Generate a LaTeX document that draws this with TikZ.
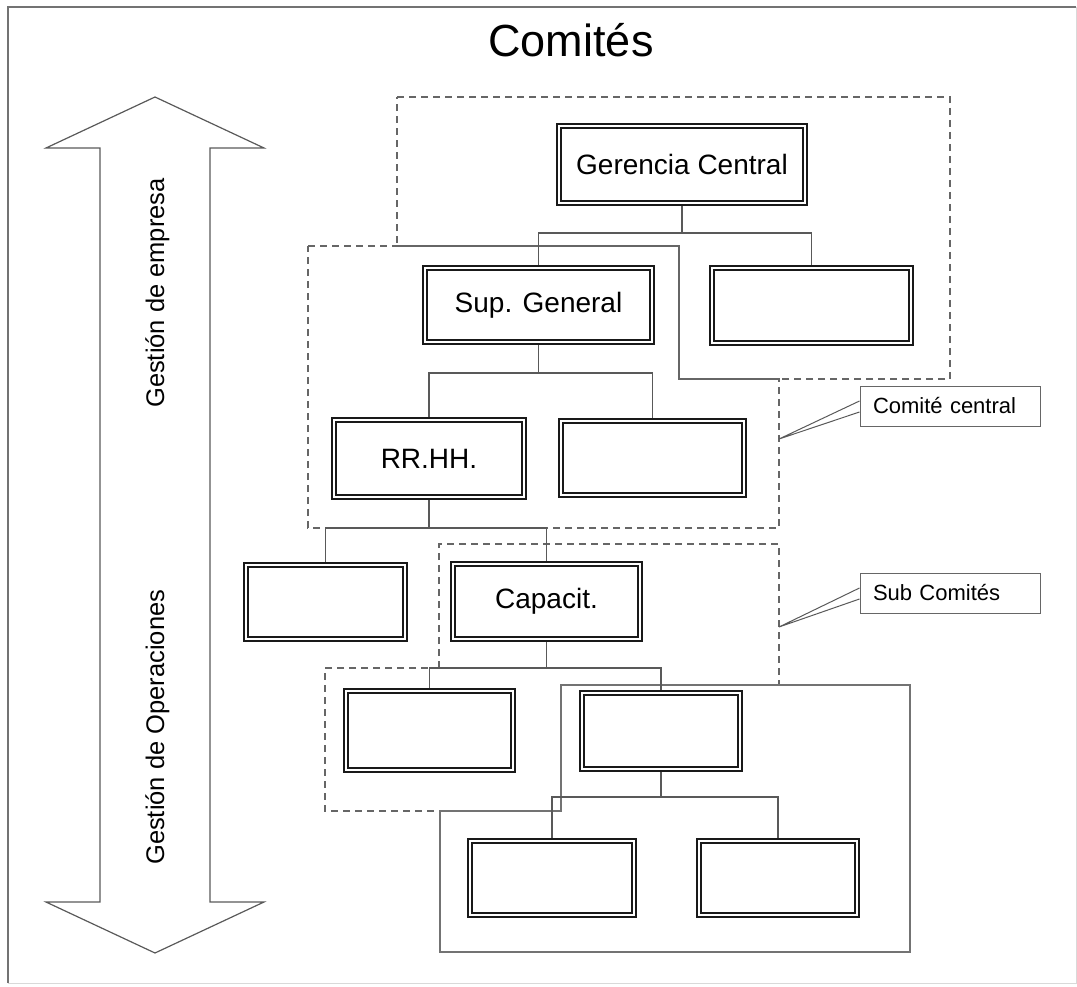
\documentclass[tikz,border=0pt]{standalone}
\usepackage{fontspec}
\setmainfont{Liberation Sans}
\usetikzlibrary{calc}

\tikzset{
  unit/.style 2 args={draw=black!90, double=white, double distance=2.2pt, line width=1.8pt,
    fill=white, inner sep=0pt, outer sep=2.9pt, minimum width=#1pt, minimum height=#2pt,
    font=\fontsize{28}{32}\selectfont},
  link/.style={draw=black!65, line width=1.2pt},
  zone/.style={draw=black!60, line width=1.2pt, dash pattern=on 7pt off 5pt},
  solidzone/.style={draw=black!55, line width=1.2pt},
  tag/.style={draw=black!60, line width=1pt, fill=white, text width=154pt, align=left,
    inner xsep=13pt, inner ysep=0pt, minimum height=40pt, font=\fontsize{22}{26}\selectfont},
  arrowline/.style={draw=black!65, line width=1.2pt, line join=miter},
  sidetext/.style={rotate=90, inner sep=0pt, font=\fontsize{25.5}{28}\selectfont}
}

\begin{document}
\begin{tikzpicture}[x=1pt, y=-1pt]
\useasboundingbox (0,0) rectangle (1077,987);
% Page frame
  \draw[black!55, line width=1.2pt] (8,983) -- (8,7) -- (1076,7);
  \draw[black!15, line width=1pt] (1076,7) -- (1076,983) -- (8,983);

% Title
  \node[font=\fontsize{45}{50}\selectfont] (title) at (571,40) {Comités};

% Left double arrow
  \draw[arrowline] (155,97) -- (264,148) -- (210,148) -- (210,902) -- (264,902)
    -- (155,953) -- (46,902) -- (100,902) -- (100,148) -- (46,148) -- cycle;
  \node[sidetext, anchor=base east] (upper) at (164,178) {Gestión de empresa};
  \node[sidetext, anchor=base west] (lower) at (164,865) {Gestión de Operaciones};

% Committee zones
  \draw[zone] (397,97) -- (950,97) -- (950,379) -- (679,379) -- (679,246) -- (397,246) -- cycle;
  \draw[zone] (308,246) -- (679,246) -- (679,379) -- (779,379) -- (779,528) -- (308,528) -- cycle;
  \draw[zone] (439,668) -- (439,544) -- (779,544) -- (779,685);
  \draw[zone] (428,668) -- (325,668) -- (325,811) -- (561,811);
  \draw[solidzone] (561,685) -- (910,685) -- (910,952) -- (440,952) -- (440,811) -- (561,811) -- cycle;

% Units
  \node[unit={246}{77}] (gc) at (682,164.5) {Gerencia Central};
  \node[unit={227}{74}] (sg) at (538.5,305) {Sup. General};
  \node[unit={199}{75}] (b1) at (811.5,305.5) {};
  \node[unit={190}{77}] (rh) at (429,458.5) {RR.HH.};
  \node[unit={183}{74}] (b2) at (652.5,458) {};
  \node[unit={159}{74}] (b3) at (325.5,602) {};
  \node[unit={187}{75}] (cap) at (546.5,601.5) {Capacit.};
  \node[unit={167}{79}] (b4) at (429.5,730.5) {};
  \node[unit={158}{76}] (b5) at (661,731) {};
  \node[unit={164}{74}] (b6) at (552,878) {};
  \node[unit={158}{74}] (b7) at (778,878) {};

% Connectors
  \coordinate (j1) at (0,233);
  \coordinate (j2) at (0,373);
  \coordinate (j3) at (0,528);
  \coordinate (j4) at (0,668);
  \coordinate (j5) at (0,797);
  \draw[link] (gc.south) -- (gc.south |- j1);
  \draw[link] (sg.north) |- (b1.north |- j1) -- (b1.north);
  \draw[link] (sg.south) -- (sg.south |- j2);
  \draw[link] (rh.north) |- (b2.north |- j2) -- (b2.north);
  \draw[link] (rh.south) -- (rh.south |- j3);
  \draw[link] (b3.north) |- (cap.north |- j3) -- (cap.north);
  \draw[link] (cap.south) -- (cap.south |- j4);
  \draw[link] (b4.north) |- (b5.north |- j4) -- (b5.north);
  \draw[link] (b5.south) -- (b5.south |- j5);
  \draw[link] (b6.north) |- (b7.north |- j5) -- (b7.north);

% Callouts
  \node[tag] (cc) at (950,406) {Comité central};
  \coordinate (cctip) at (779,439);
  \draw[link, line width=1pt] ([yshift=5pt]cc.west) -- (cctip) -- ([yshift=-6pt]cc.west);
  \node[tag] (sc) at (950,593) {Sub Comités};
  \coordinate (sctip) at (779,627);
  \draw[link, line width=1pt] ([yshift=5pt]sc.west) -- (sctip) -- ([yshift=-6pt]sc.west);
\end{tikzpicture}
\end{document}
